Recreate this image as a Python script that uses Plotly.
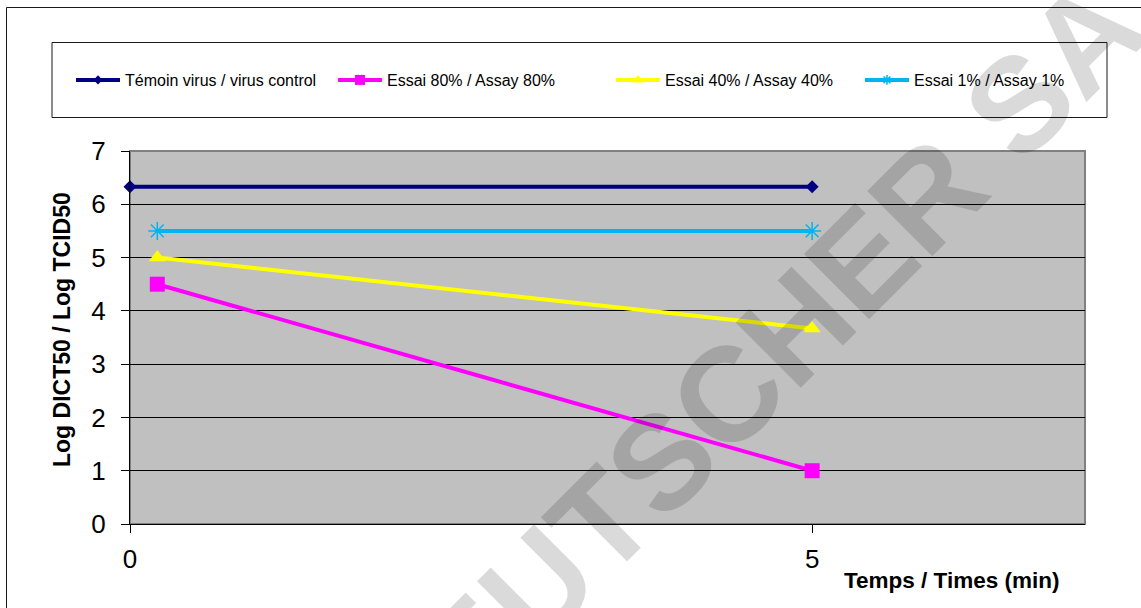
import plotly.graph_objects as go

# ---- data ----
series_names = [
    "Témoin virus / virus control",
    "Essai 80% / Assay 80%",
    "Essai 40% / Assay 40%",
    "Essai 1% / Assay 1%",
]
times_control = [0, 5]
times_assay = [0.2, 5]
control_values = [6.33, 6.33]
assay80_values = [4.5, 1.0]
assay40_values = [5.0, 3.67]
assay1_values = [5.5, 5.5]

x_ticks = [0, 5]
y_ticks = [0, 1, 2, 3, 4, 5, 6, 7]

# ---- geometry helpers (pixel -> paper) ----
W, H = 1141, 608
ML, MR, MT, MB = 130, 56, 151, 84
PW, PH = W - ML - MR, H - MT - MB


def px(xp):
    return (xp - ML) / PW


def py(yp):
    return (H - MB - yp) / PH


FONT = "Arial, Liberation Sans, sans-serif"

styles = [
    dict(color="#000080", symbol="diamond", size=10, legend_size=7),
    dict(color="#FF00FF", symbol="square", size=15, legend_size=10),
    dict(color="#FFFF00", symbol="triangle-up", size=15, legend_size=10),
    dict(color="#00B4F0", symbol="asterisk-open", size=15, legend_size=8),
]
xs = [times_control, times_assay, times_assay, times_assay]
ys = [control_values, assay80_values, assay40_values, assay1_values]
legend_ids = ["legend", "legend2", "legend3", "legend4"]
legend_line_start = [76, 338, 616, 865]


def make_marker(st, size):
    m = dict(symbol=st["symbol"], size=size, color=st["color"])
    if st["symbol"].endswith("open"):
        m["line"] = dict(color=st["color"], width=1.5)
    else:
        m["line"] = dict(width=0)
    return m


fig = go.Figure()
for name, x, y, st in zip(series_names, xs, ys, styles):
    fig.add_trace(go.Scatter(
        x=x, y=y, name=name, mode="lines+markers",
        line=dict(color=st["color"], width=4),
        marker=make_marker(st, st["size"]), showlegend=False, cliponaxis=False,
    ))

# legend entries (smaller key markers)
for name, st, lg in zip(series_names, styles, legend_ids):
    fig.add_trace(go.Scatter(
        x=[None], y=[None], name=name, mode="lines+markers",
        line=dict(color=st["color"], width=4),
        marker=make_marker(st, st["legend_size"]), legend=lg, showlegend=True,
    ))

legend_common = dict(
    orientation="h", xref="container", yref="container",
    xanchor="left", yanchor="middle", y=1 - 80 / H,
    bgcolor="rgba(0,0,0,0)", borderwidth=0, itemwidth=44,
    font=dict(family=FONT, size=16, color="#000000"),
)
layout_legends = {}
for lg, lx in zip(legend_ids, legend_line_start):
    layout_legends[lg] = dict(legend_common, x=(lx - 5) / W)

shapes = [
    # outer chart frame
    dict(type="rect", xref="paper", yref="paper",
         x0=px(6.5), x1=px(1150), y0=py(620), y1=py(7.5),
         line=dict(color="#1a1a1a", width=1), fillcolor="rgba(0,0,0,0)", layer="below"),
    # legend frame
    dict(type="rect", xref="paper", yref="paper",
         x0=px(52), x1=px(1107), y0=py(117.5), y1=py(42.5),
         line=dict(color="#1a1a1a", width=1), fillcolor="rgba(0,0,0,0)", layer="below"),
    # plot area frame (top/right)
    dict(type="rect", xref="paper", yref="paper", x0=0, x1=1, y0=0, y1=1,
         line=dict(color="#808080", width=2), fillcolor="rgba(0,0,0,0)", layer="below"),
]

annotations = [
    dict(text="<b>Log DICT50 / Log TCID50</b>", xref="paper", yref="paper",
         x=px(62), y=py(330), xanchor="center", yanchor="middle",
         showarrow=False, textangle=-90,
         font=dict(family=FONT, size=23, color="#000000")),
    dict(text="<b>Temps / Times (min)</b>", xref="paper", yref="paper",
         x=px(951), y=py(580), xanchor="center", yanchor="middle",
         showarrow=False,
         font=dict(family=FONT, size=22.5, color="#000000")),
    dict(text="<b>DEUTSCHER SA</b>", xref="paper", yref="paper",
         x=px(745), y=py(377), xanchor="center", yanchor="middle",
         showarrow=False, textangle=-45,
         font=dict(family=FONT, size=134, color="rgba(0,0,0,0.145)")),
]

fig.update_layout(
    width=W, height=H,
    margin=dict(l=ML, r=MR, t=MT, b=MB, autoexpand=False),
    paper_bgcolor="#FFFFFF", plot_bgcolor="#C0C0C0",
    font=dict(family=FONT, color="#000000"),
    showlegend=True,
    shapes=shapes, annotations=annotations,
    **layout_legends,
)
fig.update_xaxes(
    range=[0, 7], tickvals=x_ticks, ticktext=[str(v) for v in x_ticks],
    showgrid=False, zeroline=False,
    showline=True, linecolor="#000000", linewidth=1,
    ticks="outside", ticklen=8, tickcolor="#000000", tickwidth=1,
    tickfont=dict(family=FONT, size=26, color="#000000"), ticklabelstandoff=4,
)
fig.update_yaxes(
    range=[0, 7], tickvals=y_ticks,
    showgrid=True, gridcolor="#000000", gridwidth=1, zeroline=False,
    showline=True, linecolor="#000000", linewidth=1,
    ticks="outside", ticklen=8, tickcolor="#000000", tickwidth=1,
    tickfont=dict(family=FONT, size=26, color="#000000"), ticklabelstandoff=10,
)

fig.write_html("out.html")
